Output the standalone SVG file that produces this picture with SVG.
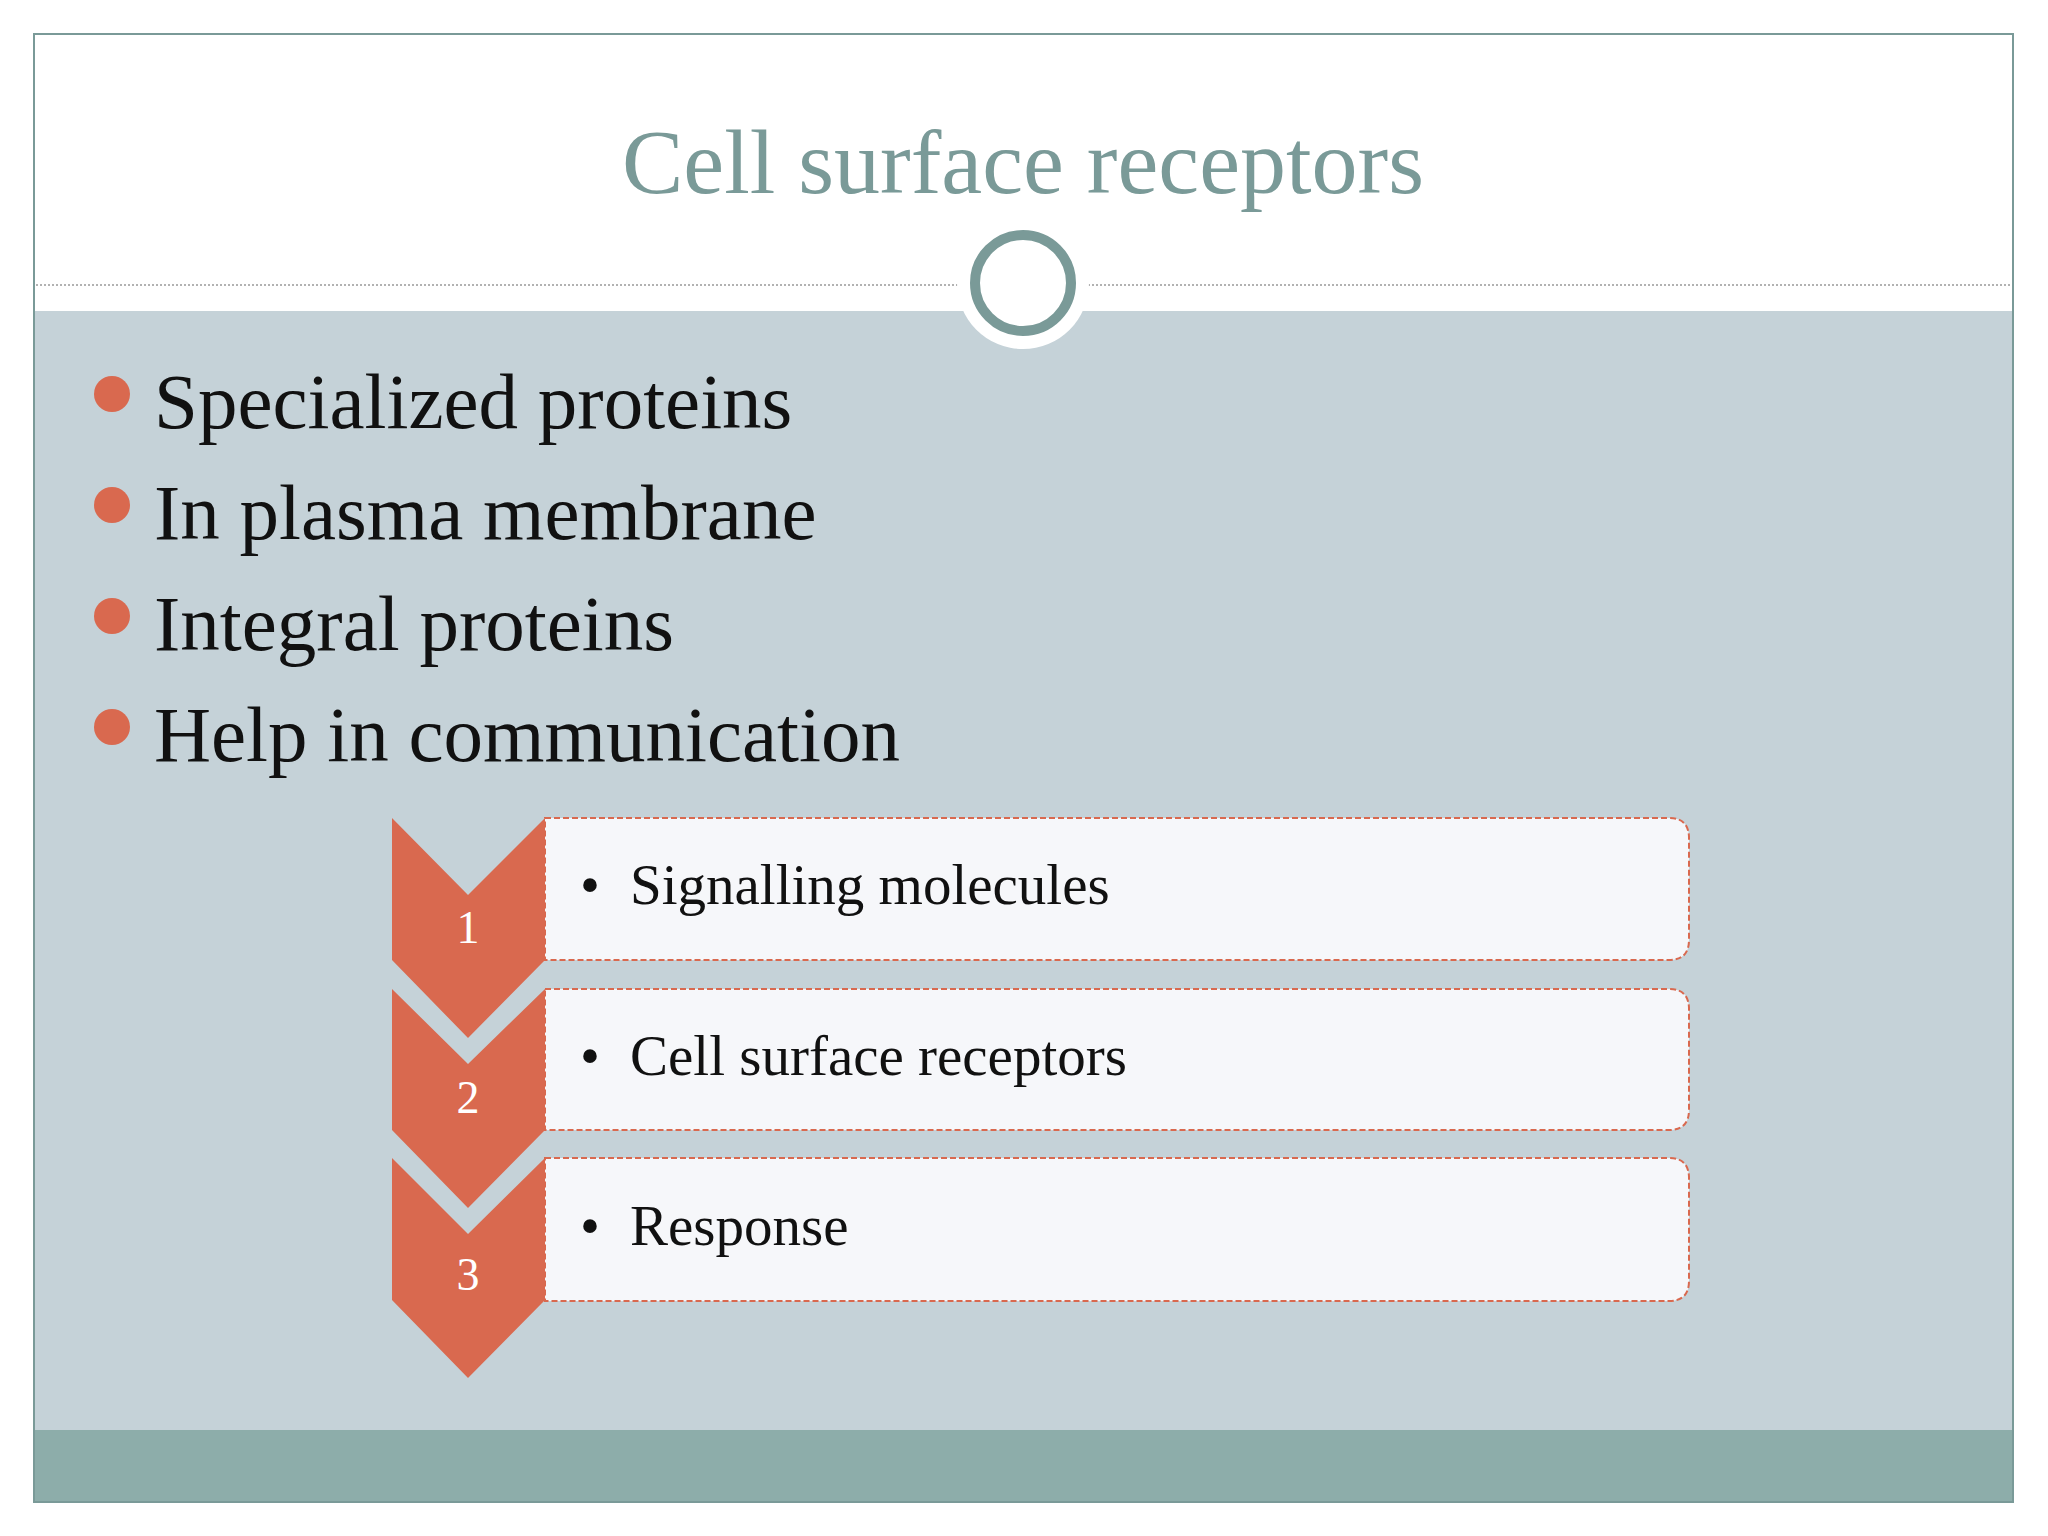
<svg xmlns="http://www.w3.org/2000/svg" width="2048" height="1536" viewBox="0 0 2048 1536">
<style>
.b{font-family:"Liberation Serif","DejaVu Serif",serif;font-size:79px;fill:#111}
.s{font-family:"Liberation Serif","DejaVu Serif",serif;font-size:57px;fill:#111}
.n{font-family:"Liberation Serif","DejaVu Serif",serif;font-size:46px;fill:#fff;text-anchor:middle}
.dot{fill:#d9694f}
.chev{fill:#d9694f}
.box{fill:#f6f7fa;stroke:#d9694f;stroke-width:2;stroke-dasharray:6 3}
</style>
<rect width="2048" height="1536" fill="#fff"/>
<rect x="34" y="311" width="1979" height="1119" fill="#c5d2d8"/>
<rect x="34" y="1430" width="1979" height="72" fill="#8dadaa"/>
<rect x="34" y="34" width="1979" height="1468" fill="none" stroke="#7a9a98" stroke-width="2"/>
<line x1="36" y1="285" x2="2011" y2="285" stroke="#999" stroke-width="1.5" stroke-dasharray="2 2"/>
<g id="title">
<text x="1023" y="193" text-anchor="middle" font-family="Liberation Serif, DejaVu Serif, serif" font-size="92" fill="#7a9a98">Cell surface receptors</text>
<circle cx="1023" cy="283" r="66" fill="#fff"/>
<circle cx="1023" cy="283" r="48" fill="#fff" stroke="#7a9a98" stroke-width="10"/>
</g>
<g id="bullets">
<circle class="dot" cx="112" cy="394" r="18"/><text class="b" x="154" y="428">Specialized proteins</text>
<circle class="dot" cx="112" cy="505" r="18"/><text class="b" x="154" y="539">In plasma membrane</text>
<circle class="dot" cx="112" cy="616" r="18"/><text class="b" x="154" y="650">Integral proteins</text>
<circle class="dot" cx="112" cy="727" r="18"/><text class="b" x="154" y="761">Help in communication</text>
</g>
<g id="step1">
<path class="box" d="M545,818 H1669 Q1689,818 1689,838 V940 Q1689,960 1669,960 H545 Z"/>
<path class="chev" d="M392,818 L468,895 L545,818 V960 L468,1038 L392,960 Z"/>
<text class="n" x="468" y="943">1</text>
<text class="s" x="580" y="904">•</text><text class="s" x="630" y="904">Signalling molecules</text>
</g>
<g id="step2">
<path class="box" d="M545,989 H1669 Q1689,989 1689,1009 V1110 Q1689,1130 1669,1130 H545 Z"/>
<path class="chev" d="M392,989 L468,1064 L545,989 V1130 L468,1208 L392,1130 Z"/>
<text class="n" x="468" y="1113">2</text>
<text class="s" x="580" y="1075">•</text><text class="s" x="630" y="1075">Cell surface receptors</text>
</g>
<g id="step3">
<path class="box" d="M545,1158 H1669 Q1689,1158 1689,1178 V1281 Q1689,1301 1669,1301 H545 Z"/>
<path class="chev" d="M392,1158 L468,1234 L545,1158 V1300 L468,1378 L392,1300 Z"/>
<text class="n" x="468" y="1290">3</text>
<text class="s" x="580" y="1245">•</text><text class="s" x="630" y="1245">Response</text>
</g>
<g id="connectors"></g>
</svg>
